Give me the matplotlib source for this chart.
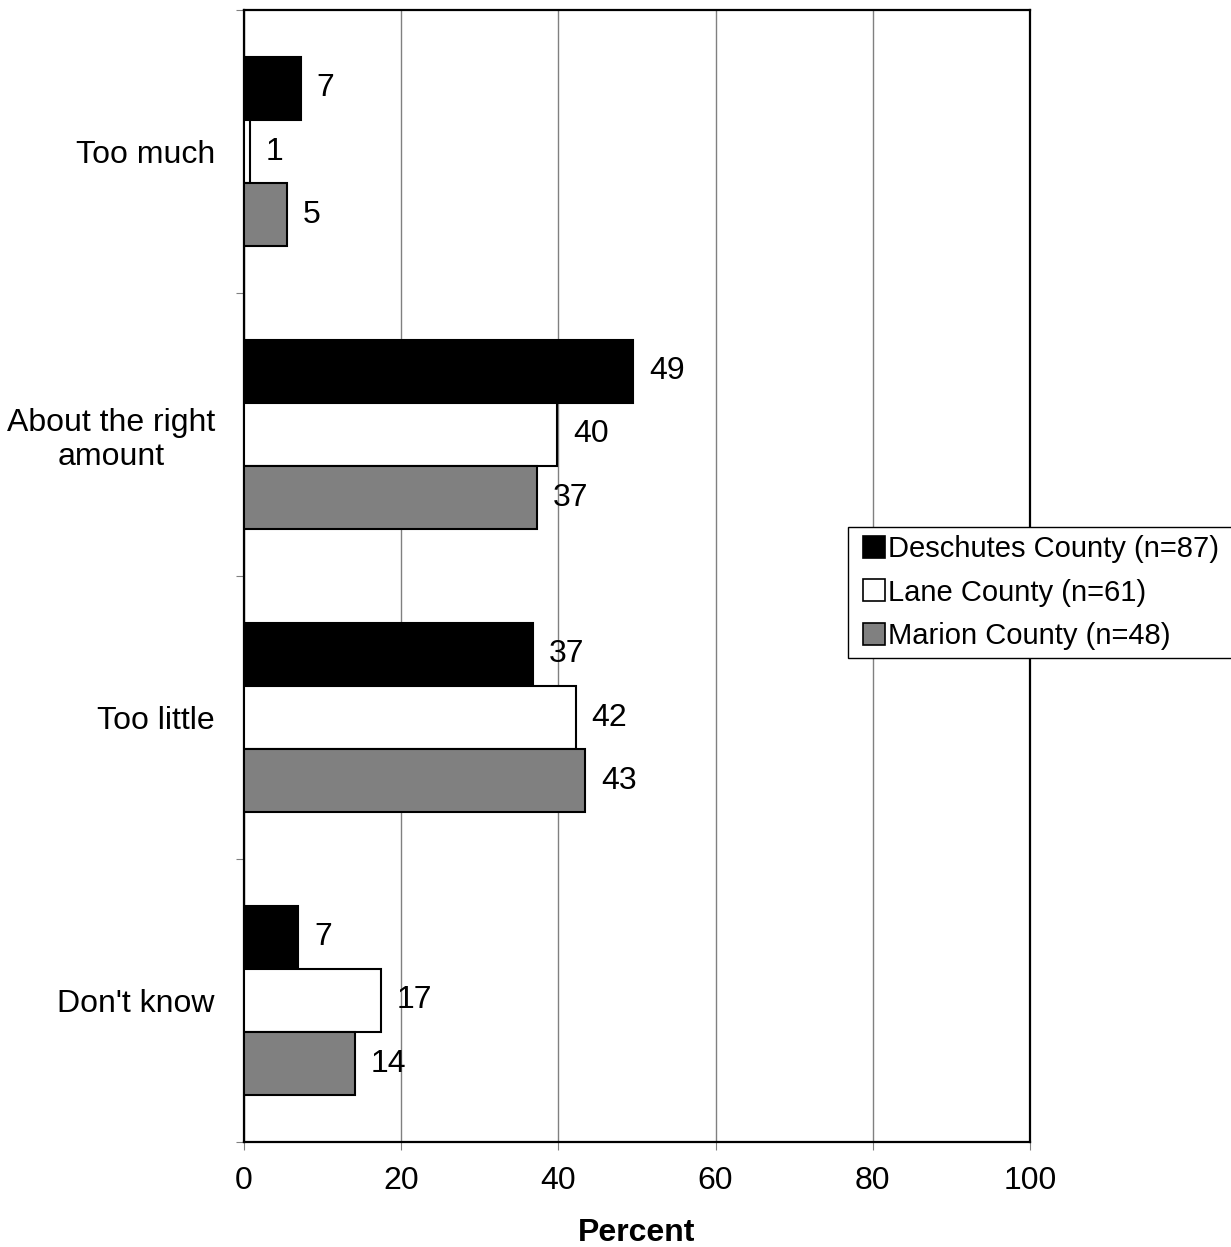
import numpy as np
import matplotlib.pyplot as plt
from matplotlib.lines import Line2D

plt.rcParams['font.family'] = ['Liberation Sans', 'DejaVu Sans']

# categories and values
categories = ['Too much', 'About the right\namount', 'Too little', "Don't know"]
series = ['Deschutes County (n=87)', 'Lane County (n=61)', 'Marion County (n=48)']
deschutes = [7.2, 49.5, 36.8, 6.9]
lane = [0.7, 39.8, 42.2, 17.4]
marion = [5.5, 37.3, 43.4, 14.1]
deschutes_lbl = [7, 49, 37, 7]
lane_lbl = [1, 40, 42, 17]
marion_lbl = [5, 37, 43, 14]
colors = ['#000000', '#ffffff', '#808080']

fs = 23
fig = plt.figure(figsize=(12.31, 12.47), dpi=100)
ax = fig.add_axes([244 / 1231, 105 / 1247, 786 / 1231, 1132 / 1247])

y = np.arange(len(categories)) + 0.5
h = 0.223
vals = [deschutes, lane, marion]
lbls = [deschutes_lbl, lane_lbl, marion_lbl]
for i in range(3):
    pos = y + (i - 1) * h
    ax.barh(pos, vals[i], height=h, color=colors[i], edgecolor='black', linewidth=1.5, zorder=3)
    for p, v, l in zip(pos, vals[i], lbls[i]):
        ax.annotate(str(l), (v, p), xytext=(11.5, 0), textcoords='offset points',
                    ha='left', va='center', fontsize=fs, zorder=4)

ax.set_xlim(0, 100)
ax.set_ylim(4, 0)
ax.set_xticks([0, 20, 40, 60, 80, 100])
ax.tick_params(axis='x', labelsize=fs, length=6, color='#808080', pad=11)
ax.set_yticks([0, 1, 2, 3, 4])
ax.set_yticklabels([])
ax.tick_params(axis='y', which='major', length=6, color='#808080')
ax.set_yticks(y, minor=True)
ax.set_yticklabels(categories, minor=True, fontsize=fs, multialignment='center', linespacing=1.17)
ax.tick_params(axis='y', which='minor', length=0, pad=21)
ax.grid(axis='x', color='#808080', linewidth=1, zorder=0)
for s in ax.spines.values():
    s.set_linewidth(1.6)
ax.set_xlabel('Percent', fontsize=fs, fontweight='bold', labelpad=16)

# legend box runs off the right edge of the figure, as in the original
lfs = 21
handles = [Line2D([], [], linestyle='none', marker='s', markersize=15.5, markerfacecolor=c,
                  markeredgecolor='black', markeredgewidth=1.2) for c in colors]
leg = fig.legend(handles, [series[0] + ' '] + series[1:], loc='upper left',
                 bbox_to_anchor=(848 / 1231, 1 - 527 / 1247),
                 fontsize=lfs, frameon=True, fancybox=False, edgecolor='black', framealpha=1,
                 numpoints=1, handlelength=1.23, handletextpad=-0.12, labelspacing=0.54,
                 borderpad=0.27, borderaxespad=0)

fig.savefig('out.png', dpi=100)
